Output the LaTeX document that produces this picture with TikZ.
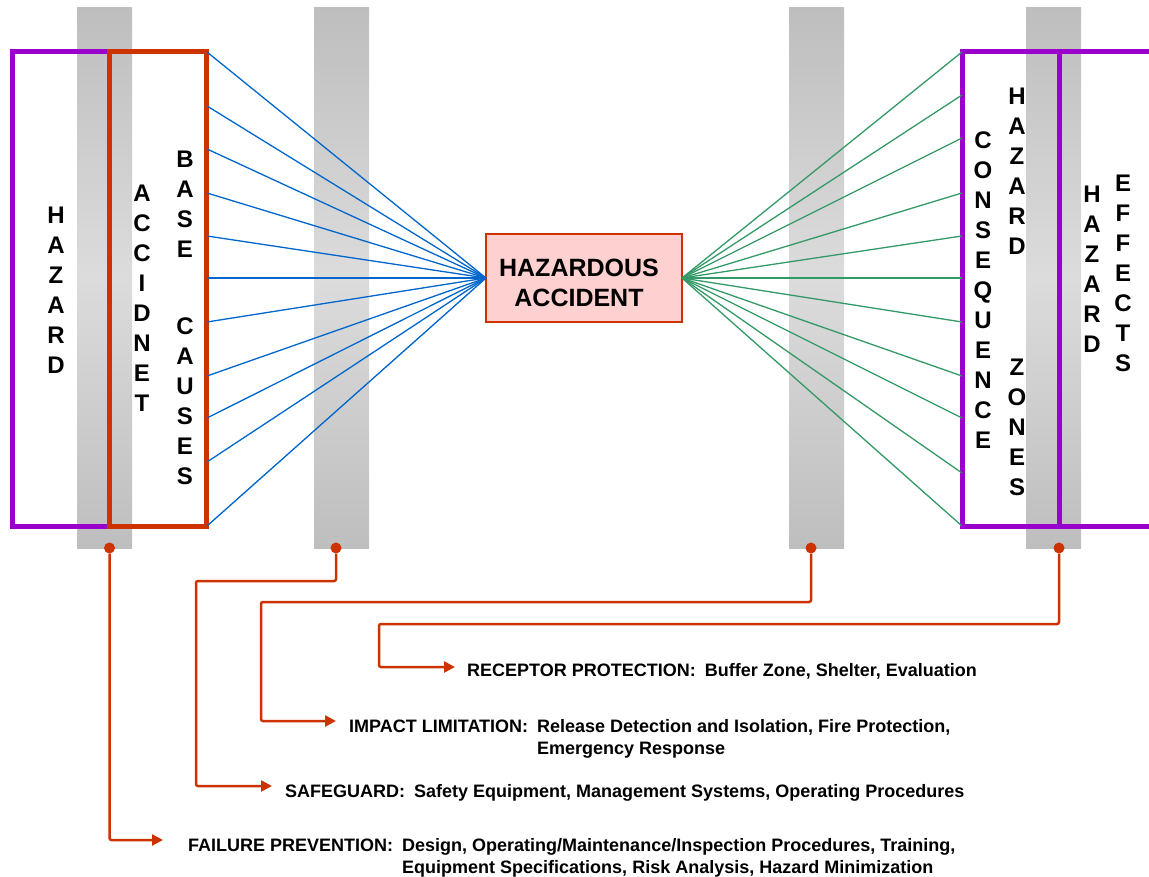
\documentclass[tikz,border=0pt]{standalone}
\usepackage{fontspec}
\setmainfont{Liberation Sans}
\usetikzlibrary{arrows.meta}

\definecolor{hzpurple}{HTML}{9900CC}
\definecolor{hzred}{HTML}{CC3300}
\definecolor{hzpink}{HTML}{FFD0D0}
\definecolor{hzblue}{HTML}{0066CC}
\definecolor{hzgreen}{HTML}{339966}
\definecolor{bardark}{HTML}{BEBEBE}
\definecolor{barlight}{HTML}{DCDCDC}

\begin{document}
\begin{tikzpicture}[x=1pt,y=-1pt,
  barrier/.style={rectangle,draw=none,inner sep=0pt,outer sep=0pt,
    minimum width=55pt,minimum height=540pt,
    top color=bardark,bottom color=bardark,middle color=barlight},
  frame/.style={rectangle,inner sep=0pt,outer sep=0pt,line width=5pt,
    minimum width=97pt,minimum height=474pt},
  vword/.style={align=center,inner sep=0pt,
    font=\fontsize{24}{30}\selectfont\bfseries},
  accbox/.style={rectangle,draw=hzred,fill=hzpink,line width=2pt,
    minimum width=196pt,minimum height=88pt,inner sep=0pt,outer sep=0pt},
  acctext/.style={align=center,inner sep=0pt,
    font=\fontsize{25}{30}\selectfont\bfseries},
  causeline/.style={hzblue,line width=1.3pt},
  effectline/.style={hzgreen,line width=1.3pt},
  dot/.style={circle,fill=hzred,inner sep=0pt,minimum size=11pt},
  conn/.style={hzred,line width=2.5pt,rounded corners=2pt,
    -{Triangle[length=11pt,width=11pt]}},
  measure/.style={anchor=base west,inner sep=0pt,
    font=\fontsize{18}{22}\selectfont\bfseries}
]
\useasboundingbox (0,0) rectangle (1149,877);

% grey barriers
\node[barrier] (bar1) at (104.5,278) {};
\node[barrier] (bar2) at (341.5,278) {};
\node[barrier] (bar3) at (816.5,278) {};
\node[barrier] (bar4) at (1053.5,278) {};

% frames on the cause side
\node[frame,draw=hzpurple] (hazbox) at (61,289) {};
\node[frame,draw=hzred] (causes) at (158,289) {};

% frames on the effect side
\node[frame,draw=hzpurple] (zones) at (1011,289) {};
\draw[hzpurple,line width=5pt] (zones.north east) -- ++(95,0);
\draw[hzpurple,line width=5pt] (zones.south east) -- ++(95,0);

% stacked words
\node[vword] (w1) at (56,290) {H\\A\\Z\\A\\R\\D};
\node[vword] (w2) at (142,298.5) {A\\C\\C\\I\\D\\N\\E\\T};
\node[vword] (w3) at (185,204) {B\\A\\S\\E};
\node[vword] (w4) at (185,401) {C\\A\\U\\S\\E\\S};
\node[vword] (w5) at (983,290) {C\\O\\N\\S\\E\\Q\\U\\E\\N\\C\\E};
\node[vword] (w6) at (1017,171) {H\\A\\Z\\A\\R\\D};
\node[vword] (w7) at (1017,427) {Z\\O\\N\\E\\S};
\node[vword] (w8) at (1092,269) {H\\A\\Z\\A\\R\\D};
\node[vword] (w9) at (1123,273) {E\\F\\F\\E\\C\\T\\S};

% central event
\node[accbox] (acc) at (584,278) {};
\node[acctext] (acclabel) at (579,283) {HAZARDOUS\\ACCIDENT};

% fan of causes
\foreach \y [count=\i] in {52,106,149,193,236,278,322,376,418,462,526}
  \coordinate (l\i) at (207,\y);
\foreach \i in {1,...,11}
  \draw[causeline] (l\i) -- (acc.west);

% fan of effects
\foreach \y [count=\i] in {52,95,138,193,236,278,322,376,418,473,526}
  \coordinate (r\i) at (962,\y);
\foreach \i in {1,...,11}
  \draw[effectline] (acc.east) -- (r\i);

% markers under the barriers
\node[dot] (d1) at (109.5,548) {};
\node[dot] (d2) at (336,548) {};
\node[dot] (d3) at (811,548) {};
\node[dot] (d4) at (1059,548) {};

% bend points and arrow ends
\coordinate (k2) at (196,581);
\coordinate (k3) at (261,602);
\coordinate (k4) at (379,624);
\coordinate (a1) at (163,840);
\coordinate (a2) at (272,786);
\coordinate (a3) at (336,721);
\coordinate (a4) at (455,667);

\draw[conn] (d1) |- (a1);
\draw[conn] (d2) |- (k2) |- (a2);
\draw[conn] (d3) |- (k3) |- (a3);
\draw[conn] (d4) |- (k4) |- (a4);

% protective measures
\node[measure] (m4) at (467,676) {\begin{tabular}[t]{@{}l@{}l@{}}
  RECEPTOR PROTECTION:\hspace{0.5em} & Buffer Zone, Shelter, Evaluation
\end{tabular}};
\node[measure] (m3) at (349,732) {\begin{tabular}[t]{@{}l@{}l@{}}
  IMPACT LIMITATION:\hspace{0.5em} & Release Detection and Isolation, Fire Protection,\\
  & Emergency Response
\end{tabular}};
\node[measure] (m2) at (285,797) {\begin{tabular}[t]{@{}l@{}l@{}}
  SAFEGUARD:\hspace{0.5em} & Safety Equipment, Management Systems, Operating Procedures
\end{tabular}};
\node[measure] (m1) at (188,851) {\begin{tabular}[t]{@{}l@{}l@{}}
  FAILURE PREVENTION:\hspace{0.5em} & Design, Operating/Maintenance/Inspection Procedures, Training,\\
  & Equipment Specifications, Risk Analysis, Hazard Minimization
\end{tabular}};
\end{tikzpicture}
\end{document}
